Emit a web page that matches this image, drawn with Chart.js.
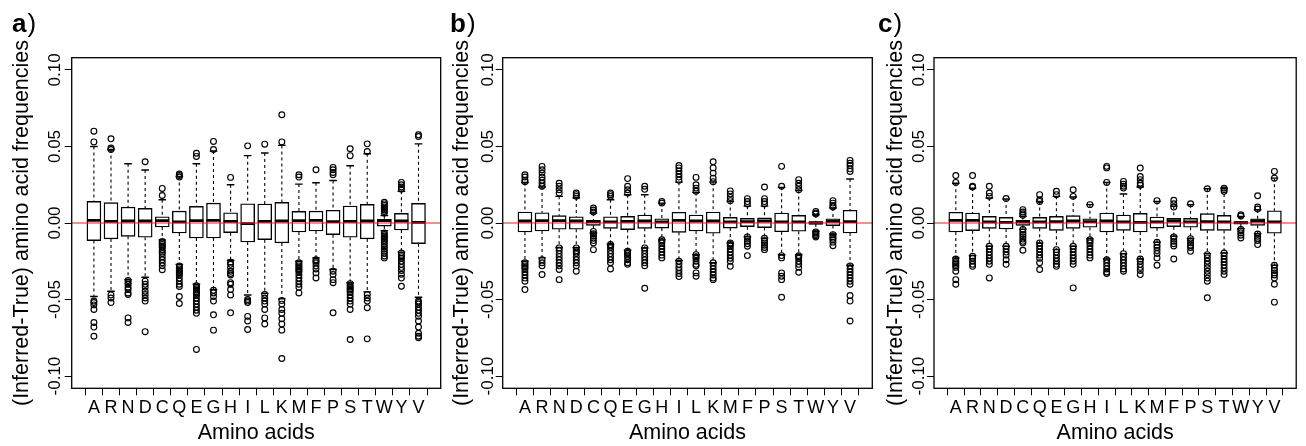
<!DOCTYPE html>
<html><head><meta charset="utf-8">
<script src="https://cdn.jsdelivr.net/npm/chart.js@4.4.1/dist/chart.umd.min.js"></script>
<style>
html,body{margin:0;padding:0;background:#fff;overflow:hidden}
#wrap{position:relative;width:1306px;height:446px;background:#fff}
canvas{position:absolute;left:0;top:0}
</style></head>
<body>
<div id="wrap">
<canvas id="ca" width="1306" height="446"></canvas>
<canvas id="cb" width="1306" height="446"></canvas>
<canvas id="cc" width="1306" height="446"></canvas>
</div>
<script>
const categories = ['A','R','N','D','C','Q','E','G','H','I','L','K','M','F','P','S','T','W','Y','V'];
const yTickValues = [-0.10, -0.05, 0, 0.05, 0.10];
const yTickLabels = ['-0.10', '-0.05', '0.00', '0.05', '0.10'];
const xTitle = 'Amino acids';
const yTitle = '(Inferred-True) amino acid frequencies';

// Panel a
const aQ3  = [0.0141,0.0133,0.0104,0.0096,0.0041,0.0078,0.0109,0.0130,0.0067,0.0126,0.0124,0.0135,0.0076,0.0078,0.0083,0.0111,0.0122,0.0024,0.0063,0.0128];
const aMed = [0.0017,0.0011,0.0013,0.0013,0.0015,0.0007,0.0015,0.0017,0.0011,-0.0004,0.0011,0.0013,0.0015,0.0017,0.0009,0.0011,0.0013,0.0015,0.0013,0.0004];
const aQ1  = [-0.0115,-0.0104,-0.0087,-0.0093,-0.0026,-0.0065,-0.0098,-0.0098,-0.0063,-0.0124,-0.0109,-0.0130,-0.0059,-0.0052,-0.0076,-0.0093,-0.0104,-0.0020,-0.0046,-0.0135];
const aHi  = [0.050,0.048,0.0387,0.0346,0.0152,0.0304,0.0387,0.047,0.025,0.044,0.0457,0.0507,0.0254,0.0263,0.0278,0.0374,0.0452,0.0048,0.0207,0.0517];
const aLo  = [-0.048,-0.0446,-0.037,-0.0354,-0.011,-0.027,-0.040,-0.0435,-0.0243,-0.047,-0.046,-0.0496,-0.025,-0.0228,-0.0304,-0.039,-0.045,-0.005,-0.019,-0.0485];
const aOut = [
 [0.060,0.053,-0.051,-0.052,-0.0535,-0.0565,-0.065,-0.068,-0.074],
 [0.055,0.049,0.048,-0.047,-0.049,-0.052],
 [-0.0376,-0.039,-0.040,-0.042,-0.0435,-0.0457,-0.0467,-0.062,-0.065],
 [0.040,-0.038,-0.040,-0.042,-0.0446,-0.0467,-0.049,-0.051,-0.071],
 [0.0226,0.018,-0.012,-0.013,-0.014,-0.015,-0.016,-0.0175,-0.019,-0.020,-0.022,-0.024,-0.026,-0.028,-0.0305],
 [0.032,0.031,0.030,-0.028,-0.029,-0.030,-0.031,-0.032,-0.033,-0.034,-0.036,-0.038,-0.040,-0.0415,-0.048,-0.0526],
 [0.0456,0.0435,-0.041,-0.042,-0.043,-0.044,-0.045,-0.046,-0.047,-0.049,-0.051,-0.053,-0.055,-0.057,-0.059,-0.0826],
 [0.0533,0.048,-0.044,-0.0457,-0.048,-0.051,-0.060,-0.070],
 [0.0298,-0.0257,-0.027,-0.029,-0.0315,-0.033,-0.034,-0.039,-0.040,-0.0435,-0.047,-0.0587],
 [0.0504,-0.050,-0.051,-0.052,-0.061,-0.064,-0.0696],
 [0.0515,-0.0467,-0.049,-0.051,-0.053,-0.0565,-0.062,-0.066],
 [0.0707,0.053,-0.0507,-0.053,-0.0565,-0.059,-0.0626,-0.066,-0.070,-0.0885],
 [0.0315,0.030,-0.026,-0.027,-0.028,-0.029,-0.030,-0.031,-0.032,-0.034,-0.036,-0.038,-0.040,-0.042,-0.0457],
 [0.0348,-0.024,-0.025,-0.026,-0.028,-0.030,-0.0326,-0.0359],
 [0.0363,0.0348,0.033,0.0315,-0.0315,-0.0337,-0.037,-0.039,-0.0587],
 [0.0485,0.044,-0.0396,-0.041,-0.042,-0.043,-0.044,-0.045,-0.047,-0.049,-0.051,-0.053,-0.0565,-0.0761],
 [0.0517,0.0467,-0.0467,-0.049,-0.051,-0.0554,-0.0757],
 [0.0065,0.0075,0.0085,0.0095,0.0105,0.0115,0.0125,0.0135,-0.0065,-0.0075,-0.0085,-0.0095,-0.0105,-0.0115,-0.0125,-0.014,-0.0155,-0.017,-0.0185,-0.020,-0.0215,-0.0228],
 [0.0265,0.025,0.0235,0.022,-0.0196,-0.021,-0.022,-0.023,-0.025,-0.027,-0.029,-0.031,-0.0335,-0.036,-0.0413],
 [0.0576,0.0565,-0.051,-0.052,-0.053,-0.055,-0.057,-0.059,-0.061,-0.064,-0.068,-0.072,-0.074,-0.075]
];

// Panel b
const bQ3  = [0.0072,0.0067,0.0048,0.0041,0.0017,0.0041,0.0043,0.0052,0.0028,0.0070,0.0052,0.0072,0.0037,0.0030,0.0033,0.0065,0.0050,0.0009,0.0028,0.0083];
const bMed = [0.0013,0.0015,0.0015,0.0013,0.0009,0.0007,0.0011,0.0013,0.0007,0.0017,0.0013,0.0013,0.0007,0.0009,0.0013,0.0007,0.0007,0.0000,0.0011,0.0009];
const bQ1  = [-0.0059,-0.0052,-0.0041,-0.0041,-0.0015,-0.0035,-0.0043,-0.0035,-0.0033,-0.0061,-0.0052,-0.0067,-0.0033,-0.0024,-0.0030,-0.0057,-0.0054,-0.0007,-0.0017,-0.0065];
const bHi  = [0.0265,0.0235,0.0174,0.0163,0.0065,0.0152,0.0185,0.0185,0.013,0.0267,0.020,0.0267,0.0141,0.011,0.011,0.0233,0.0213,0.0054,0.0098,0.0287];
const bLo  = [-0.025,-0.0228,-0.016,-0.016,-0.0065,-0.014,-0.0178,-0.0163,-0.011,-0.0245,-0.0207,-0.026,-0.013,-0.009,-0.010,-0.0207,-0.0207,-0.0054,-0.0072,-0.0276];
const bOut = [
 [0.0315,0.030,0.028,0.027,-0.026,-0.027,-0.028,-0.029,-0.030,-0.032,-0.034,-0.036,-0.038,-0.0435],
 [0.037,0.0348,0.0326,0.030,0.028,0.026,0.024,-0.024,-0.026,-0.028,-0.0337],
 [0.026,0.024,0.0217,0.0196,-0.0163,-0.018,-0.020,-0.022,-0.024,-0.026,-0.028,-0.0304,-0.037],
 [0.0196,0.0185,0.0174,-0.0163,-0.018,-0.019,-0.020,-0.022,-0.024,-0.026,-0.028,-0.0315],
 [0.0098,0.0085,0.0072,-0.0055,-0.007,-0.0085,-0.010,-0.0115,-0.013,-0.0174],
 [0.0196,0.0185,0.0174,-0.0141,-0.015,-0.016,-0.018,-0.020,-0.022,-0.024,-0.026,-0.030],
 [0.029,0.024,0.0217,0.0196,-0.0185,-0.0195,-0.020,-0.021,-0.022,-0.024,-0.026,-0.027],
 [0.024,0.022,-0.0163,-0.018,-0.020,-0.022,-0.024,-0.026,-0.028,-0.0426],
 [0.014,0.013,-0.011,-0.012,-0.013,-0.015,-0.017,-0.019,-0.021,-0.0228],
 [0.0376,0.036,0.034,0.032,0.030,0.028,-0.025,-0.027,-0.029,-0.031,-0.033,-0.035],
 [0.0298,0.025,0.0228,0.0207,-0.0207,-0.022,-0.023,-0.025,-0.027,-0.028,-0.0326,-0.0348],
 [0.040,0.036,0.0326,0.0293,0.027,-0.026,-0.028,-0.030,-0.032,-0.034,-0.036,-0.037],
 [0.021,0.019,0.0167,0.0146,-0.013,-0.014,-0.015,-0.017,-0.019,-0.021,-0.023,-0.025,-0.0283],
 [0.0159,0.014,0.0124,-0.0091,-0.0105,-0.012,-0.0135,-0.0152,-0.0213],
 [0.0235,0.0159,0.014,0.0124,-0.010,-0.0115,-0.013,-0.0145,-0.016,-0.0174],
 [0.037,0.024,-0.0213,-0.0228,-0.0326,-0.0348,-0.037,-0.0485],
 [0.0283,0.026,0.024,0.0217,-0.0213,-0.022,-0.023,-0.025,-0.027,-0.029,-0.0322],
 [0.0076,0.0065,0.0058,-0.0058,-0.0065,-0.0075,-0.0083,-0.0091],
 [0.0146,0.013,0.0115,0.0105,-0.0076,-0.009,-0.010,-0.011,-0.0125,-0.0148],
 [0.0409,0.039,0.0376,0.0354,0.0337,-0.028,-0.030,-0.032,-0.034,-0.036,-0.038,-0.040,-0.0474,-0.051,-0.064]
];

// Panel c
const cQ3  = [0.0070,0.0065,0.0043,0.0037,0.0017,0.0037,0.0043,0.0048,0.0028,0.0065,0.0052,0.0063,0.0039,0.0030,0.0030,0.0061,0.0050,0.0009,0.0028,0.0080];
const cMed = [0.0017,0.0017,0.0007,0.0004,0.0007,0.0007,0.0009,0.0013,0.0009,0.0013,0.0007,0.0004,0.0007,0.0013,0.0007,0.0009,0.0007,0.0002,0.0013,0.0007];
const cQ1  = [-0.0059,-0.0050,-0.0035,-0.0039,-0.0015,-0.0035,-0.0048,-0.0035,-0.0028,-0.0059,-0.0048,-0.0059,-0.0033,-0.0024,-0.0028,-0.0048,-0.0048,-0.0007,-0.0015,-0.0067];
const cHi  = [0.026,0.0228,0.0163,0.0157,0.0043,0.0141,0.0174,0.017,0.012,0.0265,0.0189,0.0235,0.0141,0.011,0.012,0.0224,0.0228,0.0043,0.0087,0.0293];
const cLo  = [-0.0228,-0.0213,-0.0152,-0.0152,-0.004,-0.013,-0.0174,-0.0152,-0.0104,-0.0235,-0.020,-0.0235,-0.0126,-0.0087,-0.0102,-0.020,-0.0196,-0.0037,-0.007,-0.0276];
const cOut = [
 [0.031,0.0265,-0.0235,-0.025,-0.026,-0.027,-0.028,-0.029,-0.0315,-0.037,-0.040],
 [0.031,0.024,0.0235,-0.0217,-0.023,-0.025,-0.027,-0.0283],
 [0.024,0.0196,0.0174,-0.0152,-0.017,-0.019,-0.021,-0.023,-0.025,-0.027,-0.0359],
 [0.016,-0.0152,-0.017,-0.019,-0.021,-0.024,-0.027],
 [0.0087,0.0072,0.006,0.005,-0.0043,-0.006,-0.0075,-0.009,-0.0105,-0.012,-0.013,-0.0178],
 [0.0185,0.0152,0.0141,-0.013,-0.015,-0.017,-0.019,-0.021,-0.023,-0.026,-0.0304],
 [0.0207,0.0185,-0.0174,-0.019,-0.021,-0.023,-0.025,-0.027,-0.0283],
 [0.0217,0.0174,-0.0152,-0.017,-0.019,-0.021,-0.023,-0.025,-0.027,-0.0424],
 [0.012,-0.011,-0.012,-0.013,-0.015,-0.017,-0.019,-0.021,-0.0228],
 [0.037,0.036,0.0265,-0.024,-0.026,-0.028,-0.030,-0.032,-0.033],
 [0.0272,0.0254,0.024,0.0228,-0.020,-0.022,-0.024,-0.026,-0.028,-0.030,-0.0315],
 [0.0359,0.0304,0.0283,0.026,0.0246,-0.0235,-0.025,-0.027,-0.029,-0.031,-0.0337],
 [0.0146,-0.0126,-0.0145,-0.016,-0.018,-0.020,-0.0228,-0.0276],
 [0.0148,0.0126,0.0104,-0.0091,-0.0105,-0.012,-0.0135,-0.015,-0.0235],
 [0.0126,-0.0102,-0.0115,-0.013,-0.0145,-0.016,-0.0185],
 [0.0224,-0.0207,-0.0228,-0.025,-0.027,-0.0293,-0.0315,-0.0337,-0.036,-0.038,-0.0489],
 [0.0228,0.0217,0.0207,-0.0196,-0.0215,-0.0235,-0.0255,-0.0275,-0.0295,-0.0315,-0.0337],
 [0.0054,0.0046,-0.0042,-0.005,-0.0065,-0.008,-0.0098],
 [0.0178,0.0104,0.0091,-0.0072,-0.0087,-0.010,-0.0115,-0.0141],
 [0.0337,0.0293,-0.0276,-0.0295,-0.031,-0.0326,-0.034,-0.036,-0.040,-0.0517]
];

// ---- layout / styling (not data) ----
const FONT = "'Liberation Sans', Arial, Helvetica, sans-serif";
Chart.defaults.font.family = FONT;
Chart.defaults.color = '#000';
const CANVAS_W = 1306, CANVAS_H = 446;
const PLOT_TOP = 57.7, PLOT_BOTTOM = 388.3;
const X_MIN = -0.3, X_MAX = categories.length + 1.3;
const Y_MIN = -0.108, Y_MAX = 0.108;
const XTICK_FONT = 18, YTICK_FONT = 17, TITLE_FONT = 21.5, LETTER_FONT = 26;

const panels = [
  {canvas:'ca', letter:'a', q1:aQ1, med:aMed, q3:aQ3, lo:aLo, hi:aHi, out:aOut, left:71.7, right:440.7, titleDx:-50, tickDx:-18, letterX:12},
  {canvas:'cb', letter:'b', q1:bQ1, med:bMed, q3:bQ3, lo:bLo, hi:bHi, out:bOut, left:502.7, right:872.3, titleDx:-41, tickDx:-15.5, letterX:450},
  {canvas:'cc', letter:'c', q1:cQ1, med:cMed, q3:cQ3, lo:cLo, hi:cHi, out:cOut, left:934, right:1303.3, titleDx:-38, tickDx:-16.5, letterX:878}
];

function buildChart(p) {
  const titleLH = TITLE_FONT * 1.2;
  const yAxisW = titleLH / 2 - p.titleDx;

  const boxes = categories.map((c, i) => ({x: i + 1, y: [p.q1[i], p.q3[i]]}));
  const medians = categories.map((c, i) => ({x: i + 1, y: p.med[i]}));
  const caps = [];
  const whisk = [];
  categories.forEach((c, i) => {
    caps.push({x: i + 1, y: p.hi[i]}, {x: i + 1, y: p.lo[i]});
    whisk.push({x: i + 1, y: p.hi[i]}, {x: i + 1, y: p.q3[i]}, {x: i + 1, y: null},
               {x: i + 1, y: p.q1[i]}, {x: i + 1, y: p.lo[i]}, {x: i + 1, y: null});
  });
  const outPts = [];
  p.out.forEach((list, i) => list.forEach(v => outPts.push({x: i + 1, y: v})));

  const framePlugin = {
    id: 'frameAndText',
    afterDraw(chart) {
      const {ctx, chartArea: a, scales: {y}} = chart;
      ctx.save();
      ctx.strokeStyle = '#000';
      ctx.lineWidth = 1.3;
      ctx.strokeRect(a.left, a.top, a.right - a.left, a.bottom - a.top);
      ctx.fillStyle = '#000';
      ctx.font = YTICK_FONT + 'px ' + FONT;
      ctx.textAlign = 'center';
      ctx.textBaseline = 'alphabetic';
      const capH = YTICK_FONT * 0.716;
      yTickValues.forEach((v, i) => {
        const py = y.getPixelForValue(v);
        ctx.save();
        ctx.translate(a.left + p.tickDx + capH / 2, py);
        ctx.rotate(-Math.PI / 2);
        ctx.fillText(yTickLabels[i], 0, 0);
        ctx.restore();
      });
      ctx.textAlign = 'left';
      ctx.font = 'bold ' + LETTER_FONT + 'px ' + FONT;
      ctx.fillText(p.letter, p.letterX, 32);
      const w = ctx.measureText(p.letter).width;
      ctx.font = LETTER_FONT + 'px ' + FONT;
      ctx.fillText(')', p.letterX + w + 1, 32);
      ctx.restore();
    }
  };

  return new Chart(document.getElementById(p.canvas), {
    type: 'bar',
    data: {
      datasets: [
        {type: 'line', data: [{x: X_MIN, y: 0}, {x: X_MAX, y: 0}], borderColor: '#ee1c1c', borderWidth: 1.2,
         pointRadius: 0, pointHoverRadius: 0, order: 0},
        {type: 'scatter', data: medians, pointStyle: 'line', pointRadius: 7, pointHoverRadius: 7,
         borderColor: '#000', pointBorderWidth: 2.8, borderWidth: 2.8, order: 1},
        {type: 'scatter', data: caps, pointStyle: 'line', pointRadius: 3.8, pointHoverRadius: 3.8,
         borderColor: '#000', pointBorderWidth: 1.4, borderWidth: 1.4, order: 2},
        {type: 'scatter', data: outPts, pointStyle: 'circle', pointRadius: 2.9, pointHoverRadius: 2.9,
         borderColor: '#000', backgroundColor: 'rgba(0,0,0,0)', pointBorderWidth: 1.15, borderWidth: 1.15, order: 2},
        {type: 'bar', data: boxes, backgroundColor: '#fff', borderColor: '#000', borderWidth: 1.4,
         borderSkipped: false, barThickness: 14, order: 3},
        {type: 'line', data: whisk, borderColor: '#000', borderWidth: 1.1, borderDash: [3, 3],
         pointRadius: 0, pointHoverRadius: 0, spanGaps: false, order: 4}
      ]
    },
    options: {
      responsive: false,
      animation: false,
      devicePixelRatio: 1,
      events: [],
      layout: {padding: {left: p.left - yAxisW, right: CANVAS_W - p.right, top: PLOT_TOP, bottom: 0}},
      plugins: {legend: {display: false}, tooltip: {enabled: false}},
      scales: {
        x: {
          type: 'linear', min: X_MIN, max: X_MAX, offset: false,
          grid: {display: true, drawOnChartArea: false, drawTicks: true, tickLength: 7, color: '#000', lineWidth: 1},
          border: {display: false},
          ticks: {autoSkip: false, maxRotation: 0, minRotation: 0, padding: 2, color: '#000',
                  font: {size: XTICK_FONT}, callback: (v, i) => categories[i]},
          afterBuildTicks: s => { s.ticks = categories.map((c, i) => ({value: i + 1})); },
          afterFit: s => { s.height = CANVAS_H - PLOT_BOTTOM; },
          title: {display: true, text: xTitle, color: '#000', font: {size: TITLE_FONT}, padding: {top: 0, bottom: 0}}
        },
        y: {
          type: 'linear', min: Y_MIN, max: Y_MAX,
          grid: {display: true, drawOnChartArea: false, drawTicks: true, tickLength: 7, color: '#000', lineWidth: 1},
          border: {display: false},
          ticks: {display: false},
          afterBuildTicks: s => { s.ticks = yTickValues.map(v => ({value: v})); },
          afterFit: s => { s.width = yAxisW; },
          title: {display: true, text: yTitle, color: '#000', font: {size: TITLE_FONT}, padding: {top: 0, bottom: 0}}
        }
      }
    },
    plugins: [framePlugin]
  });
}

panels.forEach(buildChart);
</script>
</body></html>
